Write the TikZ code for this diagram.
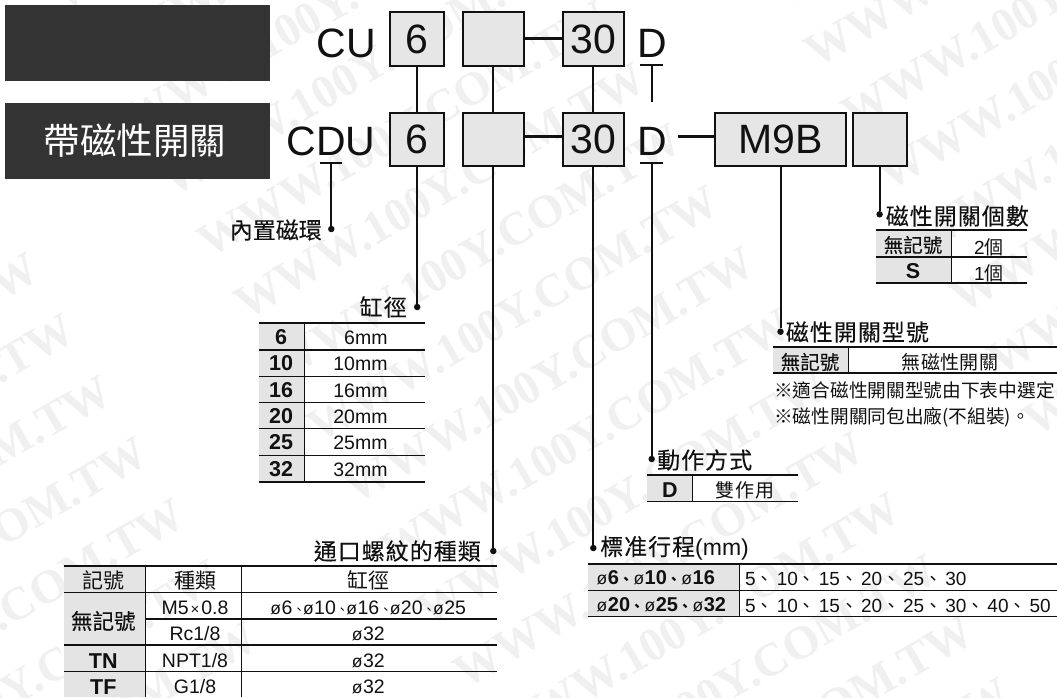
\documentclass[tikz,border=0pt]{standalone}
\usepackage{fontspec}
\setmainfont{Liberation Sans}
\newfontfamily\cjk{Noto Sans CJK TC}
\newfontfamily\cjkm[FakeBold=0.12]{Noto Sans CJK TC}
\newfontfamily\cjkb[FakeBold=0.3]{Noto Sans CJK TC}
\newfontfamily\wmfont{Liberation Serif}
\newcommand{\fsz}[1]{\fontsize{#1}{#1}\selectfont}
\newcommand{\dun}{{\mdseries\fsz{17.5}\hspace{.5pt}\symbol{"00F8}\hspace{.5pt}}}
\newcommand{\cmb}{\makebox[14pt][l]{\fsz{14}\cjk 、}}
\newcommand{\csp}{\makebox[21pt][l]{\fsz{18}\cjk 、}}
\newcommand{\cmn}{\makebox[10pt][l]{\fsz{13}\cjk 、}}
\newcommand{\tg}{\hspace{1pt}}
\definecolor{ink}{HTML}{111111}
\definecolor{cellg}{HTML}{E4E4E4}
\definecolor{boxg}{HTML}{E6E6E6}
\definecolor{bar}{HTML}{333333}
\definecolor{wmc}{HTML}{F0F0F0}
\tikzset{
  pbox/.style={draw=ink,fill=boxg,line width=2pt,inner sep=0pt,text=ink,font=\fsz{41}},
  band/.style={fill=bar,inner sep=0pt,text=white},
  big/.style={inner sep=0pt,text=ink,font=\fsz{41}},
  conn/.style={draw=ink,line width=2pt},
  dashln/.style={draw=ink,line width=3pt},
  tickln/.style={draw=ink,line width=2pt},
  dotn/.style={circle,fill=ink,inner sep=0pt,minimum size=6.5pt},
  ttl/.style={inner sep=0pt,text=ink,font=\cjkm\fsz{23}},
  cj/.style={inner sep=0pt,text=ink,font=\cjk\fsz{19}},
  cjbold/.style={inner sep=0pt,text=ink,font=\cjkb\fsz{21.5}},
  la/.style={inner sep=0pt,text=ink,font=\fsz{19.5}},
  lb/.style={inner sep=0pt,text=ink,font=\bfseries\fsz{21.5}},
  hr/.style={draw=ink,line width=1.2pt},
  hrt/.style={draw=ink,line width=2.2pt},
  vr/.style={draw=ink,line width=1pt},
  wmark/.style={inner sep=0pt,text=wmc,rotate=30,anchor=base west,font=\wmfont\bfseries\fsz{47}},
}
\begin{document}
\begin{tikzpicture}[x=1pt,y=-1pt]
\useasboundingbox (0,0) rectangle (1057,697);
\fill[white] (0,0) rectangle (1057,697);
% watermark
\begin{scope}
\clip (0,0) rectangle (1057,697);
\foreach \m in {-2,-1,0,1} {
  \foreach \k in {-8,...,8} {
    \pgfmathsetmacro{\px}{355.5+\k*36.5+\m*534}
    \pgfmathsetmacro{\py}{505+\k*61.5-\m*313}
    \pgfmathtruncatemacro{\show}{(\px<1057)&&(\px>-420)&&(\py>0)&&(\py<940)}
    \ifnum\show=1
      \node[wmark,name=wm\m x\k] at (\px,\py) {WWW.100Y.COM.TW};
    \fi
  }
}
\end{scope}
% bands
\node[band,minimum width=265pt,minimum height=76pt] (bandA) at (137.5,43) {};
\node[band,minimum width=265pt,minimum height=76pt,font=\cjk\fsz{36.5}] (bandB) at (137.5,141) {\hspace{-5pt}帶磁性開關};
% ordering code, row 1
\node[big,anchor=base] (cu) at (346.5,57.7) {CU};
\node[pbox,minimum width=53.6pt,minimum height=53.6pt] (a6) at (417.2,38.9) {\raisebox{-1pt}{6}};
\node[pbox,minimum width=61.5pt,minimum height=53.6pt] (ab) at (493.3,38.9) {};
\node[pbox,minimum width=61.4pt,minimum height=53.6pt] (a30) at (593.3,38.9) {\raisebox{-1pt}{30}};
\node[big,anchor=base] (aD) at (652.2,57.7) {D};
% ordering code, row 2
\node[big,anchor=base] (cdu) at (331.2,155.5) {CDU};
\node[pbox,minimum width=53.6pt,minimum height=53pt] (b6) at (417.2,139.2) {6};
\node[pbox,minimum width=61.5pt,minimum height=53pt] (bb) at (493.3,139.2) {};
\node[pbox,minimum width=61.4pt,minimum height=53pt] (b30) at (593.3,139.2) {30};
\node[big,anchor=base] (bD) at (652.2,155.5) {D};
\node[pbox,minimum width=131pt,minimum height=53pt] (m9b) at (780.5,139.2) {M9B};
\node[pbox,minimum width=53.8pt,minimum height=53pt] (bl) at (879.6,139.2) {};
% dashes
\draw[dashln] (ab.east |- 0,38.3) -- (a30.west |- 0,38.3);
\draw[dashln] (bb.east |- 0,136) -- (b30.west |- 0,136);
\coordinate (dashD) at (678,136);
\draw[dashln] (dashD) -- (m9b.west |- dashD);
% ticks under D
\coordinate (tA1) at (640,65); \coordinate (tA2) at (663,65); \coordinate (tAm) at (651.7,65); \coordinate (tAe) at (651.7,101.7);
\draw[tickln] (tA1) -- (tA2); \draw[tickln] (tAm) -- (tAe);
\coordinate (tB1) at (640,163); \coordinate (tB2) at (663,163); \coordinate (tBm) at (651.7,163);
\draw[tickln] (tB1) -- (tB2);
\coordinate (tC1) at (319.5,163); \coordinate (tC2) at (342,163); \coordinate (tCm) at (331.3,163);
\draw[tickln] (tC1) -- (tC2);
% dots
\node[dotn] (dMag) at (331.3,229) {};
\node[dotn] (dBore) at (417.2,307) {};
\node[dotn] (dPort) at (493.3,551) {};
\node[dotn] (dStroke) at (593.3,548) {};
\node[dotn] (dAct) at (651.7,459) {};
\node[dotn] (dType) at (780.5,331.7) {};
\node[dotn] (dCount) at (879.6,214.3) {};
% connectors
\draw[conn] (a6.south) -- (b6.north);
\draw[conn] (ab.south) -- (bb.north);
\draw[conn] (a30.south) -- (b30.north);
\draw[conn] (tCm) -- (dMag);
\draw[conn] (b6.south) -- (dBore);
\draw[conn] (bb.south) -- (dPort);
\draw[conn] (b30.south) -- (dStroke);
\draw[conn] (tBm) -- (dAct);
\draw[conn] (m9b.south) -- (dType);
\draw[conn] (bl.south) -- (dCount);
% titles
\node[ttl,anchor=east] (tMag) at (322,230) {內置磁環};
\node[ttl,anchor=east] (tBore) at (407,307) {缸\tg 徑};
\node[ttl,anchor=east] (tPort) at (481,551) {通\tg 口\tg 螺\tg 紋\tg 的\tg 種\tg 類};
\node[ttl,anchor=west] (tStroke) at (600,548) {標\tg 准\tg 行\tg 程{\fontspec{Liberation Sans}\fsz{23}(mm)}};
\node[ttl,anchor=west] (tAct) at (657,460) {動\tg 作\tg 方\tg 式};
\node[ttl,anchor=west] (tType) at (785.7,332) {磁\tg 性\tg 開\tg 關\tg 型\tg 號};
\node[ttl,anchor=west] (tCount) at (885.6,216) {磁\tg 性\tg 開\tg 關\tg 個\tg 數};
% table: count
\fill[cellg] (876,230) rectangle (951.5,283);
\draw[hrt] (876,230) -- (1027,230);
\draw[hr] (876,257) -- (1027,257);
\draw[hr] (876,283) -- (1027,283);
\draw[vr] (951.5,230) -- (951.5,283);
\node[cj,font=\cjkb\fsz{19.5}] (c1a) at (913,245) {無記號};
\node[la,font=\fsz{19}] (c1b) at (989,247) {2{\cjk 個}};
\node[lb] (c2a) at (913,271) {S};
\node[la,font=\fsz{19}] (c2b) at (989,273) {1{\cjk 個}};
% table: bore
\fill[cellg] (259,323.3) rectangle (304.3,482);
\draw[hrt] (259,323.3) -- (425,323.3);
\foreach \yy in {350,376.3,402.7,428.7,455.3,482} \draw[hr] (259,\yy) -- (425,\yy);
\draw[vr] (304.3,323.3) -- (304.3,482);
\node[lb] (r1a) at (281,337) {6};
\node[lb] (r2a) at (281,363) {10};
\node[lb] (r3a) at (281,390) {16};
\node[lb] (r4a) at (281,416) {20};
\node[lb] (r5a) at (281,442) {25};
\node[lb] (r6a) at (281,469) {32};
\node[la,anchor=east] (r1b) at (387.7,337.5) {6mm};
\node[la,anchor=east] (r2b) at (387.7,364) {10mm};
\node[la,anchor=east] (r3b) at (387.7,390.5) {16mm};
\node[la,anchor=east] (r4b) at (387.7,416.5) {20mm};
\node[la,anchor=east] (r5b) at (387.7,443) {25mm};
\node[la,anchor=east] (r6b) at (387.7,469.5) {32mm};
% table: port
\fill[cellg] (64,566) rectangle (145.7,697);
\draw[hrt] (64,566) -- (496.7,566);
\foreach \yy in {592.7,645,671.7} \draw[hr] (64,\yy) -- (496.7,\yy);
\draw[hr] (145.7,619) -- (496.7,619);
\draw[vr] (145.7,566) -- (145.7,697);
\draw[vr] (241.7,566) -- (241.7,697);
\node[cj,font=\cjk\fsz{21}] (h1) at (103.3,580.7) {記號};
\node[cj,font=\cjk\fsz{21}] (h2) at (195,580.7) {種類};
\node[cj,font=\cjk\fsz{21}] (h3) at (368,580.7) {缸徑};
\node[cjbold] (p1a) at (103.3,621) {無記號};
\node[la] (p1b) at (195,607.7) {M5{\fsz{15}\hspace{2pt}×\hspace{2pt}}0.8};
\node[la] (p1c) at (368,607.7) {\dun 6\cmn\dun 10\cmn\dun 16\cmn\dun 20\cmn\dun 25};
\node[la] (p2b) at (195,634) {Rc1/8};
\node[la] (p2c) at (368,634) {\dun 32};
\node[lb] (p3a) at (103.3,660.7) {TN};
\node[la] (p3b) at (195,660.7) {NPT1/8};
\node[la] (p3c) at (368,660.7) {\dun 32};
\node[lb] (p4a) at (103.3,686.7) {TF};
\node[la] (p4b) at (195,686.7) {G1/8};
\node[la] (p4c) at (368,686.7) {\dun 32};
% table: stroke
\fill[cellg] (587.7,564.3) rectangle (739.3,616.3);
\draw[hrt] (587.7,564.3) -- (1057,564.3);
\draw[hr] (587.7,590.7) -- (1057,590.7);
\draw[hr] (587.7,616.3) -- (1057,616.3);
\draw[vr] (739.3,564.3) -- (739.3,616.3);
\node[lb,anchor=west,font=\bfseries\fsz{20}] (s1a) at (596,578) {\dun 6\cmb\dun 10\cmb\dun 16};
\node[lb,anchor=west,font=\bfseries\fsz{20}] (s2a) at (596,605) {\dun 20\cmb\dun 25\cmb\dun 32};
\node[la,anchor=west,font=\fsz{19}] (s1b) at (745,579) {5\csp 10\csp 15\csp 20\csp 25\csp 30};
\node[la,anchor=west,font=\fsz{19}] (s2b) at (745,606) {5\csp 10\csp 15\csp 20\csp 25\csp 30\csp 40\csp 50};
% table: action
\fill[cellg] (647.3,475.3) rectangle (692.3,501.7);
\draw[hrt] (647.3,475.3) -- (798,475.3);
\draw[hr] (647.3,501.7) -- (798,501.7);
\draw[vr] (692.3,475.3) -- (692.3,501.7);
\node[lb] (a1a) at (670,490) {D};
\node[cj] (a1b) at (745,490) {雙\hspace{1pt}作\hspace{1pt}用};
% table: switch type
\fill[cellg] (773,346.7) rectangle (848.3,373);
\draw[hrt] (773,346.7) -- (1057,346.7);
\draw[hr] (773,373) -- (1057,373);
\draw[vr] (848.3,346.7) -- (848.3,373);
\node[cj,font=\cjkb\fsz{19.5}] (t1a) at (810,362) {無記號};
\node[cj] (t1b) at (950,362) {無\hspace{.5pt}磁\hspace{.5pt}性\hspace{.5pt}開\hspace{.5pt}關};
\begin{scope}
\clip (0,0) rectangle (1057,697);
\node[cj,anchor=west,font=\cjk\fsz{18.7}] (n1) at (774,390.7) {※適合磁性開關型號由下表中選定。};
\node[cj,anchor=west,font=\cjk\fsz{18.7}] (n2) at (774,417.7) {※磁性開關同包出廠(不組裝)。};
\end{scope}
\end{tikzpicture}
\end{document}
